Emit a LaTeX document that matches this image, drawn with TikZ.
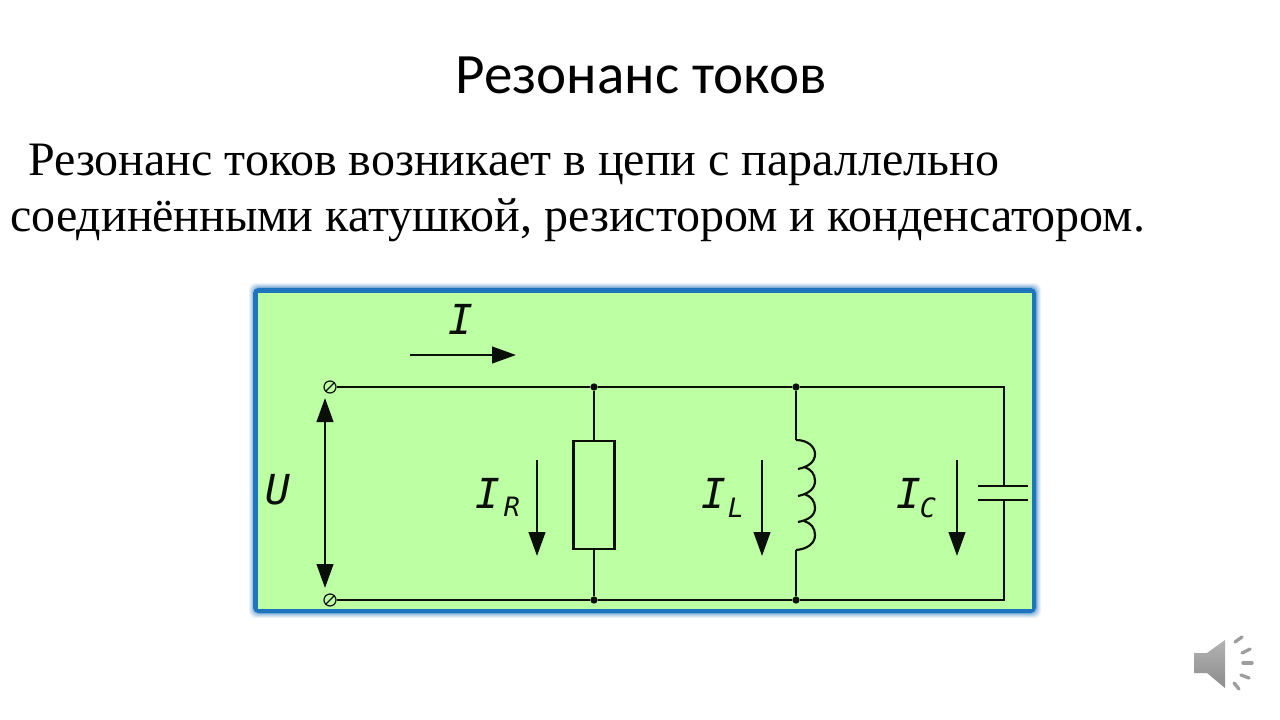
\documentclass[tikz,border=0pt]{standalone}
\usepackage{fontspec}
\setmainfont{Liberation Serif}
\newfontfamily\titlefont{Carlito}
\newfontfamily\labelfont{DejaVu Sans Mono}[ItalicFont={DejaVu Sans Mono Oblique}]
\usetikzlibrary{arrows.meta}
\definecolor{panelgreen}{HTML}{BDFFA3}
\definecolor{panelblue}{HTML}{1F74BE}
\definecolor{inkblack}{HTML}{0A0F0A}
\tikzset{
  wire/.style={draw=inkblack,line width=1.9pt},
  flow/.style={draw=inkblack,line width=1.7pt,-{Triangle[length=18pt,width=12.5pt]}},
  flowboth/.style={draw=inkblack,line width=1.7pt,{Triangle[length=18pt,width=12.5pt]}-{Triangle[length=18pt,width=12.5pt]}},
  dot/.style={circle,fill=inkblack,inner sep=0pt,minimum size=5.5pt},
  terminal/.style={circle,draw=inkblack,line width=.9pt,fill=panelgreen,inner sep=0pt,minimum size=9pt,path picture={\draw[inkblack,line width=.9pt] (path picture bounding box.south west) -- (path picture bounding box.north east);}},
  sym/.style={inner sep=0pt,text=inkblack,font=\labelfont\itshape\fontsize{31}{31}\selectfont},
  sub/.style={inner sep=0pt,text=inkblack,font=\labelfont\itshape\fontsize{20}{20}\selectfont},
  bodyline/.style={inner sep=0pt,anchor=base west,font=\fontsize{36}{36}\selectfont},
  tick/.style={line width=2.5pt,line cap=round,draw=black!38}
}
\begin{document}
\begin{tikzpicture}[x=0.75pt,y=-0.75pt]
\useasboundingbox (0,0) rectangle (1280,720);
\fill[white] (0,0) rectangle (1280,720);
% title and text
\node[inner sep=0pt,anchor=base,font=\titlefont\fontsize{42.8}{43}\selectfont] (title) at (641,94) {Резонанс токов};
\node[bodyline] (line1) at (28,176) {Резонанс токов возникает в цепи с параллельно};
\node[bodyline] (line2) at (10,232) {соединёнными катушкой, резистором и конденсатором.};
% panel shadow
\foreach \g/\o in {5/.08,4/.10,3/.13,2/.18,1/.25}{
  \fill[panelblue,opacity=\o,rounded corners=5pt] (254-\g,288-\g) rectangle (1036+\g,613+\g);
}
\fill[panelblue,rounded corners=4pt] (253,288) rectangle (1036,613);
\fill[panelgreen] (258,293) rectangle (1032,609);
% circuit nodes
\node[terminal] (tt) at (330,387) {};
\node[terminal] (tb) at (330,600) {};
\node[dot] (j1t) at (594,387) {};
\node[dot] (j1b) at (594,600) {};
\node[dot] (j2t) at (796,387) {};
\node[dot] (j2b) at (796,600) {};
\coordinate (ct) at (1004,387);
\coordinate (cb) at (1004,600);
\node[wire,rectangle,minimum width=31pt,minimum height=81pt,inner sep=0pt,fill=panelgreen] (res) at (594,495) {};
\coordinate (coilT) at (796,440);
\coordinate (coilB) at (796,550);
\coordinate (capA) at (1004,486);
\coordinate (capB) at (1004,500);
\coordinate (capAl) at (978,486);
\coordinate (capAr) at (1028,486);
\coordinate (capBl) at (978,500);
\coordinate (capBr) at (1028,500);
% wires
\draw[wire] (tt) -- (j1t) -- (j2t) -- (ct) -- (capA);
\draw[wire] (tb) -- (j1b) -- (j2b) -- (cb) -- (capB);
\draw[wire] (j1t) -- (res.north);
\draw[wire] (res.south) -- (j1b);
\draw[wire] (j2t) -- (coilT);
\draw[wire] (coilB) -- (j2b);
\draw[wire] (capAl) -- (capAr);
\draw[wire] (capBl) -- (capBr);
% coil
\draw[draw=inkblack,line width=1.6pt]
  (coilT) .. controls (808,440) and (815,447) .. (815,454)
  .. controls (815,462) and (808,467) .. (798,469)
  (804,467) .. controls (811,469) and (815,474) .. (815,481)
  .. controls (815,489) and (808,494) .. (798,496)
  (804,494) .. controls (811,496) and (815,501) .. (815,508)
  .. controls (815,516) and (808,520) .. (798,522)
  (804,521) .. controls (811,523) and (815,528) .. (815,535)
  .. controls (815,543) and (808,549) .. (coilB);
% current arrows
\coordinate (iS) at (410,355); \coordinate (iE) at (516,355);
\coordinate (uS) at (325,398); \coordinate (uE) at (325,588);
\coordinate (rS) at (537,460); \coordinate (rE) at (537,556);
\coordinate (lS) at (762,460); \coordinate (lE) at (762,556);
\coordinate (cS) at (957,460); \coordinate (cE) at (957,556);
\draw[flow] (iS) -- (iE);
\draw[flowboth] (uS) -- (uE);
\draw[flow] (rS) -- (rE);
\draw[flow] (lS) -- (lE);
\draw[flow] (cS) -- (cE);
% labels
\node[sym] (lI) at (461,319) {I};
\node[sym] (lU) at (278,490) {U};
\node[sym] (lIR) at (488,493) {I};
\node[sub] (lR) at (512,507) {R};
\node[sym] (lIL) at (714,493) {I};
\node[sub] (lL) at (736,508) {L};
\node[sym] (lIC) at (909,493) {I};
\node[sub] (lC) at (928,508) {C};
% speaker icon
\shade[top color=black!30,bottom color=black!45] (1194,653) -- (1207,653) -- (1225,640) -- (1225,688) -- (1207,673) -- (1194,673) -- cycle;
\draw[tick] (1235,642) -- (1242,637);
\draw[tick] (1242,653) -- (1250,649);
\draw[tick] (1243,663) -- (1252,663);
\draw[tick] (1241,675) -- (1249,678);
\draw[tick] (1234,683) -- (1239,689);
\end{tikzpicture}
\end{document}
